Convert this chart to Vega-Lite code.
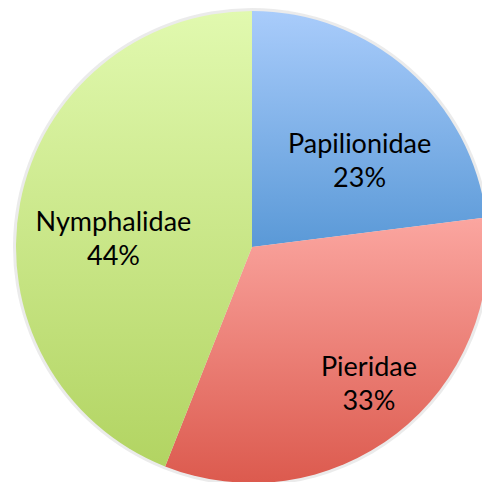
{
  "$schema": "https://vega.github.io/schema/vega-lite/v6.json",
  "width": 504,
  "height": 494,
  "padding": 0,
  "autosize": {"type": "none"},
  "background": "white",
  "config": {"view": {"stroke": null}},
  "data": {"values": [
    {"family": "Papilionidae", "percent": 23, "order": 1},
    {"family": "Pieridae", "percent": 33, "order": 2},
    {"family": "Nymphalidae", "percent": 44, "order": 3}
  ]},
  "transform": [
    {"stack": "percent", "groupby": [], "sort": [{"field": "order"}], "as": ["start", "end"]},
    {"calculate": "(datum.start + datum.end) / 2", "as": "mid"},
    {"calculate": "[datum.family, datum.percent + '%']", "as": "label"}
  ],
  "layer": [
    {
      "mark": {"type": "arc", "outerRadius": 239, "color": "#9a9a9a", "opacity": 0.2},
      "encoding": {
        "theta": {"field": "start", "type": "quantitative", "scale": {"domain": [0, 100]}},
        "theta2": {"field": "end"}
      }
    },
    {
      "transform": [{"filter": "datum.family === 'Papilionidae'"}],
      "layer": [
        {
          "mark": {"type": "arc", "outerRadius": 236, "color": {"gradient": "linear", "x1": 0, "y1": 0, "x2": 0, "y2": 1, "stops": [{"offset": 0, "color": "#a9ccfb"}, {"offset": 1, "color": "#5a99d7"}]}},
          "encoding": {
            "theta": {"field": "start", "type": "quantitative", "scale": {"domain": [0, 100]}},
            "theta2": {"field": "end"}
          }
        },
        {
          "mark": {"type": "text", "radius": 137, "fontSize": 27, "font": "Lato", "lineHeight": 34, "dx": 17, "dy": 1, "color": "black"},
          "encoding": {
            "theta": {"field": "mid", "type": "quantitative", "scale": {"domain": [0, 100]}},
            "text": {"field": "label"}
          }
        }
      ]
    },
    {
      "transform": [{"filter": "datum.family === 'Pieridae'"}],
      "layer": [
        {
          "mark": {"type": "arc", "outerRadius": 236, "color": {"gradient": "linear", "x1": 0, "y1": 0, "x2": 0, "y2": 1, "stops": [{"offset": 0, "color": "#fba6a0"}, {"offset": 1, "color": "#dc5a4e"}]}},
          "encoding": {
            "theta": {"field": "start", "type": "quantitative", "scale": {"domain": [0, 100]}},
            "theta2": {"field": "end"}
          }
        },
        {
          "mark": {"type": "text", "radius": 181, "fontSize": 27, "font": "Lato", "lineHeight": 34, "dx": 6, "dy": -22, "color": "black"},
          "encoding": {
            "theta": {"field": "mid", "type": "quantitative", "scale": {"domain": [0, 100]}},
            "text": {"field": "label"}
          }
        }
      ]
    },
    {
      "transform": [{"filter": "datum.family === 'Nymphalidae'"}],
      "layer": [
        {
          "mark": {"type": "arc", "outerRadius": 236, "color": {"gradient": "linear", "x1": 0, "y1": 0, "x2": 0, "y2": 1, "stops": [{"offset": 0, "color": "#e1f9af"}, {"offset": 1, "color": "#b2d462"}]}},
          "encoding": {
            "theta": {"field": "start", "type": "quantitative", "scale": {"domain": [0, 100]}},
            "theta2": {"field": "end"}
          }
        },
        {
          "mark": {"type": "text", "radius": 139, "fontSize": 27, "font": "Lato", "lineHeight": 34, "dx": -2, "dy": 2, "color": "black"},
          "encoding": {
            "theta": {"field": "mid", "type": "quantitative", "scale": {"domain": [0, 100]}},
            "text": {"field": "label"}
          }
        }
      ]
    }
  ]
}
